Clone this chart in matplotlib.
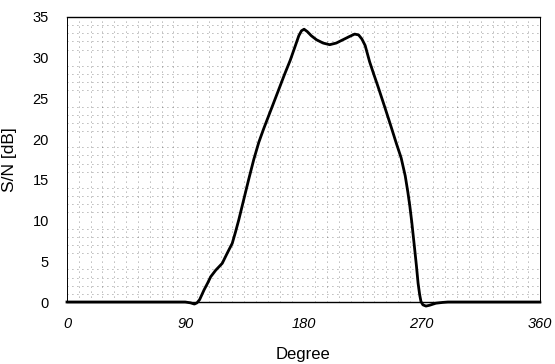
import matplotlib
matplotlib.use("Agg")
import matplotlib.pyplot as plt
import numpy as np

# --- data ---
degree = [0, 30, 60, 90, 94, 97, 99, 101, 104.4, 107, 109.4, 113.2, 118.2, 122,
          125.8, 128.3, 130.8, 134.6, 138.4, 142.2, 146, 149.8, 156, 161, 165.5,
          170, 173.7, 176.5, 178.5, 180.5, 183, 186, 190, 195, 200, 205, 210, 215,
          219, 222, 224.5, 227, 230.4, 233.5, 236.7, 241.8, 246.8, 250.5, 254.4,
          257.5, 259.5, 261, 262.5, 264.5, 266, 267.3, 268.5, 269.5, 271, 273.3,
          276, 280.8, 286, 290, 320, 360]
snr = [0, 0, 0, 0, -0.1, -0.25, -0.1, 0.3, 1.5, 2.3, 3.1, 3.9, 4.75, 6.0,
       7.2, 8.6, 10.1, 12.6, 15.1, 17.5, 19.6, 21.3, 23.9, 26.0, 27.9,
       29.7, 31.4, 32.7, 33.3, 33.5, 33.2, 32.7, 32.2, 31.8, 31.6, 31.8, 32.2, 32.6,
       32.9, 32.8, 32.3, 31.5, 29.5, 28.0, 26.5, 24.0, 21.5, 19.6, 17.7,
       15.5, 13.5, 11.8, 9.8, 6.8, 4.5, 2.3, 0.9, 0.05, -0.35, -0.5,
       -0.4, -0.15, -0.05, 0, 0, 0]

x_ticks = [0, 90, 180, 270, 360]
y_ticks = [0, 5, 10, 15, 20, 25, 30, 35]

plt.rcParams['font.family'] = ['Liberation Sans', 'DejaVu Sans']

fig = plt.figure(figsize=(5.55, 3.64), dpi=100)
ax = fig.add_axes([0.1207, 0.1703, 0.852, 0.7830])

# dotted background grid (9 deg x 1 dB), sparse like the scan
ax.set_xticks(np.arange(0, 361, 9), minor=True)
ax.set_yticks(np.arange(0, 36, 1), minor=True)
ax.grid(which='minor', color='#333333', linestyle=(0, (1, 5)), linewidth=0.6, alpha=0.7)

ax.plot(degree, snr, color='black', linewidth=2.0, clip_on=False, zorder=3,
        solid_joinstyle='round')

ax.set_xlim(0, 360)
ax.set_ylim(0, 35)
ax.set_xticks(x_ticks)
ax.set_yticks(y_ticks)
ax.set_xticklabels([str(t) for t in x_ticks], style='italic')
ax.tick_params(which='both', length=0)
ax.tick_params(axis='y', pad=13, labelsize=10.5)
ax.tick_params(axis='x', pad=11, labelsize=10.5)

for side in ['top', 'bottom']:
    ax.spines[side].set_linewidth(1.0)
for side in ['left', 'right']:
    ax.spines[side].set_linewidth(0.7)
    ax.spines[side].set_linestyle((0, (3, 1)))

ax.set_xlabel("Degree", fontsize=12, labelpad=11)
ax.set_ylabel("S/N [dB]", fontsize=12.5, labelpad=11)

fig.savefig("out.png", dpi=100)
